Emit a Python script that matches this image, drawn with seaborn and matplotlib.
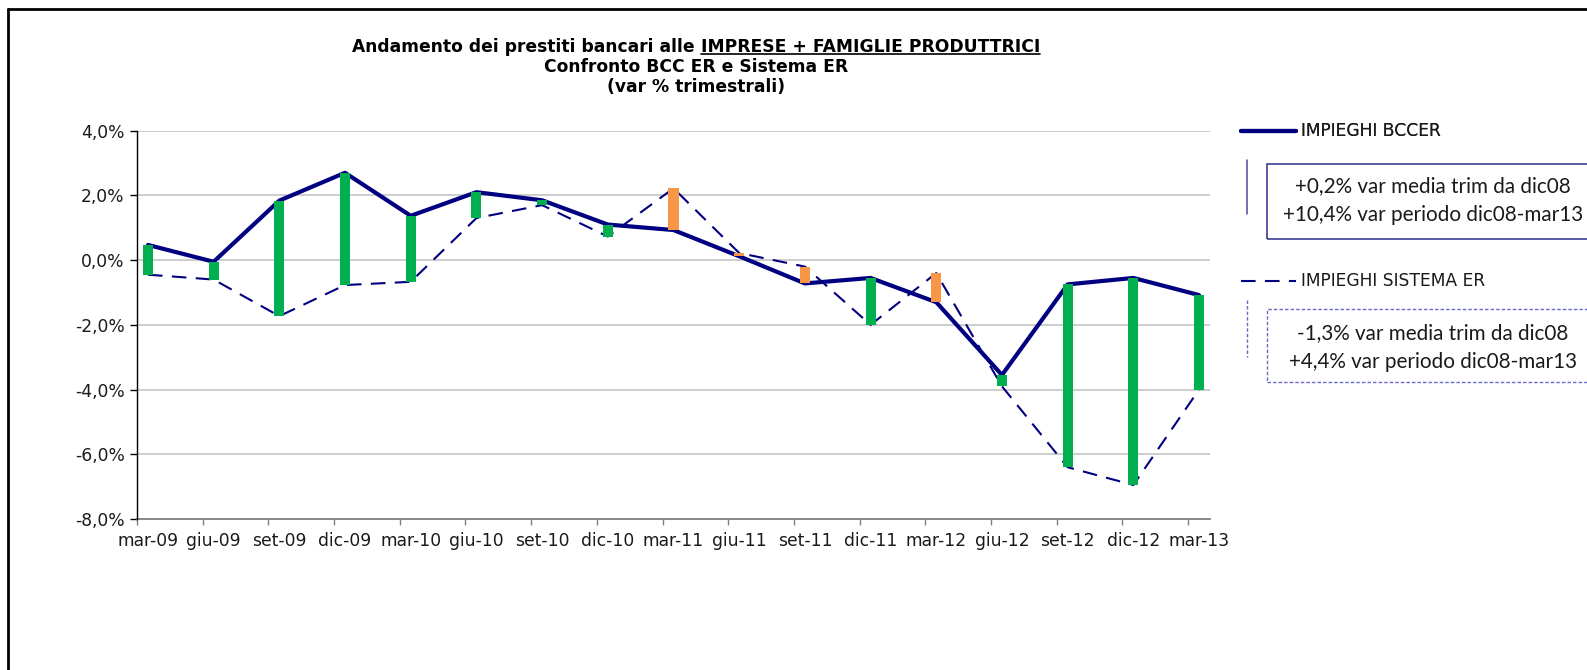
import matplotlib
matplotlib.use("Agg")
import matplotlib.pyplot as plt
import seaborn as sns
import numpy as np
import pandas as pd
from matplotlib.lines import Line2D
from matplotlib.patches import Rectangle
from matplotlib.ticker import FuncFormatter

# ---------------- data ----------------
periods = ["mar-09", "giu-09", "set-09", "dic-09", "mar-10", "giu-10", "set-10", "dic-10",
           "mar-11", "giu-11", "set-11", "dic-11", "mar-12", "giu-12", "set-12", "dic-12", "mar-13"]
bcc = [0.47, -0.05, 1.84, 2.70, 1.37, 2.10, 1.85, 1.10, 0.93, 0.12, -0.72, -0.55, -1.30,
       -3.55, -0.75, -0.55, -1.08]
sistema = [-0.45, -0.60, -1.73, -0.77, -0.67, 1.30, 1.70, 0.73, 2.22, 0.22, -0.20, -2.00,
           -0.40, -3.90, -6.40, -6.95, -4.00]
y_ticks = [-8, -6, -4, -2, 0, 2, 4]
title_part1 = "Andamento dei prestiti bancari alle "
title_part2 = "IMPRESE + FAMIGLIE PRODUTTRICI"
title_line2 = "Confronto BCC ER e Sistema ER"
title_line3 = "(var % trimestrali)"
label_bcc = "IMPIEGHI BCCER"
label_sis = "IMPIEGHI SISTEMA ER"
box_bcc = ["+0,2% var media trim da dic08", "+10,4% var periodo dic08-mar13"]
box_sis = ["-1,3% var media trim da dic08", "+4,4% var periodo dic08-mar13"]

# ---------------- style ----------------
NAVY = "#000080"
GREEN = "#00B050"
ORANGE = "#F79646"
TXT = "#1a1a1a"

sns.set_theme(style="white")
plt.rcParams["font.family"] = ["DejaVu Sans"]

W, H = 1587, 670
fig = plt.figure(figsize=(W / 100, H / 100), dpi=100)
fig.patch.set_facecolor("white")

def fx(px):
    return px / W

def fy(py):
    return 1 - py / H

left, right, top, bottom = 137, 1210, 130.7, 519
ax = fig.add_axes([fx(left), fy(bottom), fx(right - left), fy(top) - fy(bottom)])

# month index derived from the period labels (date-like axis)
mon = {"mar": 2, "giu": 5, "set": 8, "dic": 11}
def month_index(p):
    m, yy = p.split("-")
    return (int(yy) - 9) * 12 + mon[m] - 2
xpos = np.array([month_index(p) for p in periods], dtype=float)

df = pd.DataFrame({"x": xpos, "bcc": bcc, "sistema": sistema})

DASH = (0, (7, 4.5))
sns.lineplot(data=df, x="x", y="sistema", ax=ax, color=NAVY, linewidth=1.5,
             linestyle=DASH, zorder=2)
sns.lineplot(data=df, x="x", y="bcc", ax=ax, color=NAVY, linewidth=3.0, zorder=3)

# up/down bars (drawn over the lines)
lo = np.minimum(df["bcc"], df["sistema"])
hi = np.maximum(df["bcc"], df["sistema"])
colors = [GREEN if b >= s else ORANGE for b, s in zip(df["bcc"], df["sistema"])]
ax.bar(df["x"], hi - lo, bottom=lo, width=0.46, color=colors, zorder=4, linewidth=0)

ax.set_xlim(xpos[0] - 0.5, xpos[-1] + 0.5)
ax.set_ylim(min(y_ticks), max(y_ticks))
ax.set_yticks(y_ticks)
ax.yaxis.set_major_formatter(FuncFormatter(lambda v, p: f"{v:.1f}%".replace(".", ",")))
ax.grid(axis="y", color="#C0C0C0", linewidth=1.1, zorder=0)
ax.set_axisbelow(True)

ax.set_xticks(xpos)
ax.set_xticklabels(periods)
ax.set_xticks(np.arange(xpos[0] - 0.5, xpos[-1] + 0.6, 3), minor=True)
ax.tick_params(axis="x", which="major", length=0, pad=9, labelsize=12.3, labelcolor=TXT)
ax.tick_params(axis="x", which="minor", length=4, width=1, color="#808080", direction="out",
               bottom=True)
ax.tick_params(axis="y", which="major", length=5, width=1, color="black", direction="out",
               left=True, labelsize=12.3, labelcolor=TXT, pad=4)
ax.set_xlabel("")
ax.set_ylabel("")
for s in ["top", "right"]:
    ax.spines[s].set_visible(False)
ax.spines["left"].set_color("black")
ax.spines["left"].set_linewidth(1)
ax.spines["bottom"].set_color("#808080")
ax.spines["bottom"].set_linewidth(1.3)
ax.spines["bottom"].set_zorder(1)

# ---------------- helpers for text fitting ----------------
fig.canvas.draw()
r = fig.canvas.get_renderer()

def text_width(s, size, **kw):
    t = fig.text(0, 0, s, fontsize=size, **kw)
    w = t.get_window_extent(r).width
    t.remove()
    return w

def fit_size(s, target, **kw):
    return 10 * target / text_width(s, 10, **kw)

# ---------------- title ----------------
full = title_part1 + title_part2
tsize = fit_size(full, 684, weight="bold")
cx = 696
wfull = text_width(full, tsize, weight="bold")
w2 = text_width(title_part2, tsize, weight="bold")
x0 = cx - wfull / 2
y1 = 51.5
fig.text(fx(x0), fy(y1), title_part1.rstrip(), fontsize=tsize, weight="bold", color="black",
         ha="left", va="baseline")
fig.text(fx(x0 + wfull), fy(y1), title_part2, fontsize=tsize, weight="bold", color="black",
         ha="right", va="baseline")
fig.add_artist(Line2D([fx(x0 + wfull - w2), fx(x0 + wfull)], [fy(y1 + 2.5)] * 2,
                      transform=fig.transFigure, color="black", linewidth=1.2))
fig.text(fx(cx), fy(y1 + 20.5), title_line2, fontsize=tsize, weight="bold", color="black",
         ha="center", va="baseline")
fig.text(fx(cx), fy(y1 + 41), title_line3, fontsize=tsize, weight="bold", color="black",
         ha="center", va="baseline")

# ---------------- legends ----------------
lsize = 12.3
h_bcc = Line2D([], [], color=NAVY, linewidth=3.0)
h_sis = Line2D([], [], color=NAVY, linewidth=1.5, linestyle=DASH)
leg1 = fig.legend(handles=[h_bcc], labels=[label_bcc], loc="center left",
                  bbox_to_anchor=(fx(1241), fy(131.5)), frameon=False, fontsize=lsize,
                  handlelength=3.2, handletextpad=0.3, borderpad=0, borderaxespad=0,
                  labelcolor=TXT)
leg2 = fig.legend(handles=[h_sis], labels=[label_sis], loc="center left",
                  bbox_to_anchor=(fx(1241), fy(281.5)), frameon=False, fontsize=lsize,
                  handlelength=3.2, handletextpad=0.3, borderpad=0, borderaxespad=0,
                  labelcolor=TXT)
fig.add_artist(leg1)

# annotation boxes
fig.add_artist(Rectangle((fx(1267), fy(239)), fx(400), fy(164) - fy(239),
                         transform=fig.transFigure, fill=False, edgecolor="#2B2B8C",
                         linewidth=1.1, clip_on=False))
fig.add_artist(Line2D([fx(1247), fx(1247)], [fy(160), fy(214)], transform=fig.transFigure,
                      color="#4B4BA0", linewidth=1.1))
fig.add_artist(Rectangle((fx(1267), fy(382)), fx(400), fy(309) - fy(382),
                         transform=fig.transFigure, fill=False, edgecolor="#6A6AC8",
                         linewidth=1.0, linestyle=(0, (2.5, 1.5)), clip_on=False))
fig.add_artist(Line2D([fx(1247), fx(1247)], [fy(300), fy(357)], transform=fig.transFigure,
                      color="#6A6AC8", linewidth=1.0, linestyle=(0, (2.5, 1.5))))

bfont = ["Lato", "DejaVu Sans"]
bsize = fit_size(box_bcc[1], 300, family=bfont)
bx = 1433
fig.text(fx(bx), fy(186.5), box_bcc[0], fontsize=bsize, color=TXT, ha="center", va="center",
         family=bfont)
fig.text(fx(bx), fy(215), box_bcc[1], fontsize=bsize, color=TXT, ha="center", va="center",
         family=bfont)
fig.text(fx(bx), fy(333), box_sis[0], fontsize=bsize, color=TXT, ha="center", va="center",
         family=bfont)
fig.text(fx(bx), fy(361.5), box_sis[1], fontsize=bsize, color=TXT, ha="center", va="center",
         family=bfont)

# outer frame (top and left edges)
fig.add_artist(Line2D([fx(8), 1.0], [fy(9)] * 2, transform=fig.transFigure, color="black",
                      linewidth=2))
fig.add_artist(Line2D([fx(8)] * 2, [fy(9), 0.0], transform=fig.transFigure, color="black",
                      linewidth=2))

fig.savefig("out.png", dpi=100, facecolor="white")
